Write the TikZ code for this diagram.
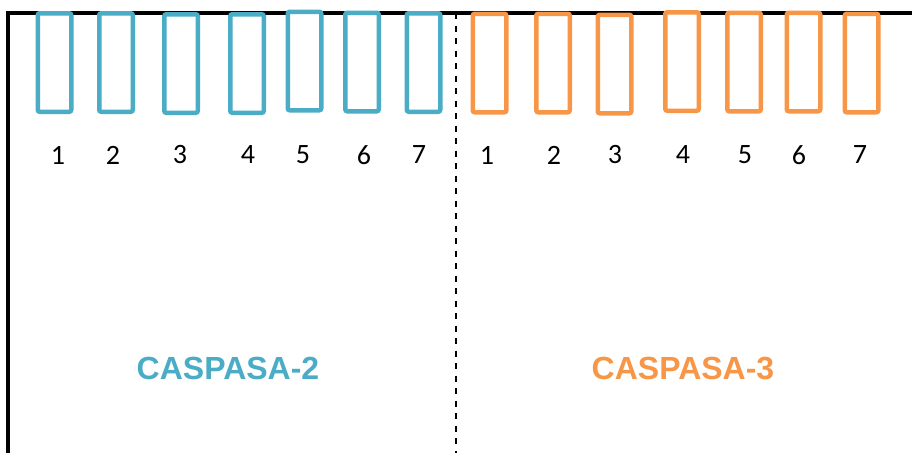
\documentclass[tikz,border=0pt]{standalone}
\usepackage{fontspec}
\setmainfont{Carlito}
\newfontfamily\titlefont{Liberation Sans}
\definecolor{cblue}{HTML}{4BACC6}
\definecolor{corange}{HTML}{F79646}
\begin{document}
\begin{tikzpicture}[x=1pt,y=-1pt,
  bar/.style={draw=#1, fill=white, line width=4.5pt, rounded corners=2pt,
    minimum width=33.5pt, minimum height=98.5pt, inner sep=0pt},
  num/.style={font=\fontsize{28}{28}\selectfont, text=black, inner sep=0pt},
  title/.style={font=\titlefont\bfseries\fontsize{32}{32}\selectfont, text=#1, inner sep=0pt}]
\useasboundingbox (0,0) rectangle (912,453);
\coordinate (tl) at (8,13);
\coordinate (tr) at (912,13);
\coordinate (bl) at (8,453);
\coordinate (dt) at (456,13);
\coordinate (db) at (456,453);
\draw[line width=3.5pt] (bl) -- (tl) -- (tr);
\draw[line width=2pt, dash pattern=on 6pt off 6.5pt] (dt) -- (db);
% blue bars
\foreach \i/\x/\y/\n in {1/54.5/62.5/58, 2/116/62.5/113, 3/181/63.5/180, 4/247/63.5/248, 5/304.5/61/303, 6/362/62/364, 7/423.5/62.5/419}{
  \node[bar=cblue] (b\i) at (\x,\y) {};
  \node[num] (bn\i) at (\n,155) {\i};
}
% orange bars
\foreach \i/\x/\y/\n in {1/489.5/63/487, 2/553/63/554, 3/614.5/64/615, 4/682/61.5/683, 5/744/62/745, 6/803.5/62/799, 7/861.5/63/860}{
  \node[bar=corange] (o\i) at (\x,\y) {};
  \node[num] (on\i) at (\n,155) {\i};
}
\node[title=cblue] (t2) at (228,368) {CASPASA-2};
\node[title=corange] (t3) at (683,368) {CASPASA-3};
\end{tikzpicture}
\end{document}
